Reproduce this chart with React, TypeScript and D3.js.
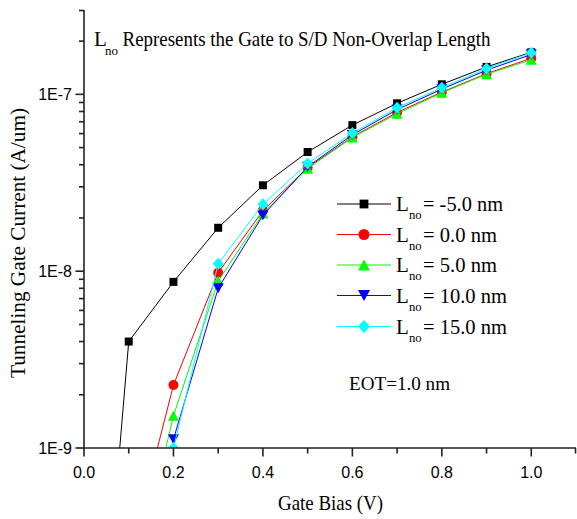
import React from "react";
import * as d3 from "d3";

const gateBias = [0, 0.1, 0.2, 0.3, 0.4, 0.5, 0.6, 0.7, 0.8, 0.9, 1.0];
const seriesNames = ["= -5.0 nm", "= 0.0 nm", "= 5.0 nm", "= 10.0 nm", "= 15.0 nm"];
const seriesColors = ["#000000", "#ff0000", "#00ff00", "#0000ff", "#00ffff"];
const seriesMarkers = ["square", "circle", "triangleUp", "triangleDown", "diamond"];
const lnoMinus5 = [4e-12, 4.0e-9, 8.7e-9, 1.76e-8, 3.06e-8, 4.72e-8, 6.7e-8, 8.9e-8, 1.14e-7, 1.43e-7, 1.73e-7];
const lno0 = [null, 2.3e-10, 2.27e-9, 9.8e-9, 2.2e-8, 3.85e-8, 5.75e-8, 7.9e-8, 1.03e-7, 1.31e-7, 1.6e-7];
const lno5 = [null, 1.3e-10, 1.52e-9, 8.8e-9, 2.12e-8, 3.8e-8, 5.7e-8, 7.77e-8, 1.02e-7, 1.3e-7, 1.57e-7];
const lno10 = [null, null, 1.12e-9, 8.0e-9, 2.07e-8, 3.9e-8, 5.9e-8, 8.2e-8, 1.07e-7, 1.37e-7, 1.68e-7];
const lno15 = [null, null, 1.0e-9, 1.1e-8, 2.39e-8, 4.07e-8, 6.04e-8, 8.4e-8, 1.09e-7, 1.4e-7, 1.72e-7];
const seriesValues = [lnoMinus5, lno0, lno5, lno10, lno15];

const xMajorTicks = [0, 0.2, 0.4, 0.6, 0.8, 1.0];
const xMinorTicks = [0.1, 0.3, 0.5, 0.7, 0.9, 1.1];
const yMajorTicks = [1e-9, 1e-8, 1e-7];
const yMajorLabels = ["1E-9", "1E-8", "1E-7"];

const W = 577;
const H = 519;
const x = d3.scaleLinear().domain([0, 1.1]).range([84, 576]);
const y = d3.scaleLog().domain([1e-9, 3e-7]).range([448, 10]);

const yMinorTicks: number[] = [];
[1e-9, 1e-8, 1e-7].forEach((d) => {
  for (let k = 2; k <= 9; k++) {
    const v = d * k;
    if (v <= 3e-7 + 1e-20) yMinorTicks.push(v);
  }
});

function markerPath(type: string, legend = false): string {
  const s = legend ? 1.1 : 1;
  switch (type) {
    case "square": {
      const h = 4 * s;
      return `M${-h},${-h}H${h}V${h}H${-h}Z`;
    }
    case "circle": {
      const r = 5 * s;
      return `M${r},0A${r},${r} 0 1,1 ${-r},0A${r},${r} 0 1,1 ${r},0Z`;
    }
    case "triangleUp": {
      const w = 5.5 * s, h = 5 * s;
      return `M0,${-h}L${w},${h}L${-w},${h}Z`;
    }
    case "triangleDown": {
      const w = 5.5 * s, h = 5 * s;
      return `M0,${h}L${w},${-h}L${-w},${-h}Z`;
    }
    default: {
      const w = 5.5 * s, h = 6 * s;
      return `M0,${-h}L${w},0L0,${h}L${-w},0Z`;
    }
  }
}

export default function App() {
  const serif = "'Liberation Serif', 'Times New Roman', serif";
  const sans = "'Liberation Sans', Arial, sans-serif";
  const line = d3
    .line<[number, number | null]>()
    .defined((d) => d[1] !== null)
    .x((d) => x(d[0]))
    .y((d) => y(d[1] as number));

  const legendY = [204, 234.5, 265, 295.5, 326.5];

  return (
    <svg
      width={W}
      height={H}
      style={{ position: "absolute", left: 0, top: 0, background: "#fff" }}
      xmlns="http://www.w3.org/2000/svg"
    >
      <defs>
        <clipPath id="plotClip">
          <rect x={84} y={0} width={W - 84} height={448} />
        </clipPath>
      </defs>
      <rect x={0} y={0} width={W} height={H} fill="#fff" />

      <g clipPath="url(#plotClip)">
        {seriesValues.map((vals, i) => {
          const pts = gateBias.map((g, j) => [g, vals[j]] as [number, number | null]);
          return (
            <g key={i}>
              <path d={line(pts) || ""} fill="none" stroke={seriesColors[i]} strokeWidth={1} />
              {pts
                .filter((p) => p[1] !== null)
                .map((p, j) => (
                  <path
                    key={j}
                    d={markerPath(seriesMarkers[i])}
                    transform={`translate(${x(p[0])},${y(p[1] as number)})`}
                    fill={seriesColors[i]}
                  />
                ))}
            </g>
          );
        })}
      </g>

      {/* axes */}
      <g stroke="#222" strokeWidth={1.6}>
        <line x1={84} x2={84} y1={10} y2={448.8} />
        <line x1={83.2} x2={576} y1={448} y2={448} />
        {xMajorTicks.map((t) => (
          <line key={"xm" + t} x1={x(t)} x2={x(t)} y1={448} y2={456.5} />
        ))}
        {xMinorTicks.map((t) => (
          <line key={"xn" + t} x1={Math.min(x(t), 575.5)} x2={Math.min(x(t), 575.5)} y1={448} y2={453.5} />
        ))}
        {yMajorTicks.map((t) => (
          <line key={"ym" + t} x1={75.5} x2={84} y1={y(t)} y2={y(t)} />
        ))}
        {yMinorTicks.map((t) => (
          <line key={"yn" + t} x1={79} x2={84} y1={Math.max(y(t), 10.5)} y2={Math.max(y(t), 10.5)} />
        ))}
      </g>

      {xMajorTicks.map((t) => (
        <text key={"xl" + t} x={x(t)} y={477.5} fontFamily={sans} fontSize={16} textAnchor="middle" fill="#000">
          {t.toFixed(1)}
        </text>
      ))}
      {yMajorTicks.map((t, i) => (
        <text key={"yl" + t} x={72} y={y(t) + 5.8} fontFamily={sans} fontSize={16} textAnchor="end" fill="#000">
          {yMajorLabels[i]}
        </text>
      ))}

      {/* axis titles */}
      <text
        x={330.5}
        y={510}
        fontFamily={serif}
        fontSize={21}
        textAnchor="middle"
        textLength={105}
        lengthAdjust="spacingAndGlyphs"
        fill="#000"
      >
        Gate Bias (V)
      </text>
      <text
        transform="translate(25,243) rotate(-90)"
        x={0}
        y={0}
        fontFamily={serif}
        fontSize={21}
        textAnchor="middle"
        textLength={270}
        lengthAdjust="spacingAndGlyphs"
        fill="#000"
      >
        Tunneling Gate Current (A/um)
      </text>

      {/* title annotation */}
      <text x={94} y={46} fontFamily={serif} fontSize={21} fill="#000">L</text>
      <text x={105} y={55} fontFamily={serif} fontSize={13} textLength={13} lengthAdjust="spacingAndGlyphs" fill="#000">no</text>
      <text
        x={122.5}
        y={46}
        fontFamily={serif}
        fontSize={21}
        textLength={368}
        lengthAdjust="spacingAndGlyphs"
        fill="#000"
      >
        Represents the Gate to S/D Non-Overlap Length
      </text>

      {/* legend */}
      {seriesNames.map((name, i) => {
        const ly = legendY[i];
        const widths = [80, 74, 74, 84, 84];
        return (
          <g key={"lg" + i}>
            <line x1={337} x2={391} y1={ly} y2={ly} stroke={seriesColors[i]} strokeWidth={1} />
            <path d={markerPath(seriesMarkers[i], true)} transform={`translate(364,${ly})`} fill={seriesColors[i]} />
            <text x={396} y={ly + 7} fontFamily={serif} fontSize={21} fill="#000">L</text>
            <text x={409} y={ly + 15} fontFamily={serif} fontSize={13} textLength={12.7} lengthAdjust="spacingAndGlyphs" fill="#000">no</text>
            <text
              x={423}
              y={ly + 7}
              fontFamily={serif}
              fontSize={21}
              textLength={widths[i]}
              lengthAdjust="spacingAndGlyphs"
              fill="#000"
            >
              {name}
            </text>
          </g>
        );
      })}

      <text x={349} y={390} fontFamily={serif} fontSize={18.5} textLength={101} lengthAdjust="spacingAndGlyphs" fill="#000">
        EOT=1.0 nm
      </text>
    </svg>
  );
}
